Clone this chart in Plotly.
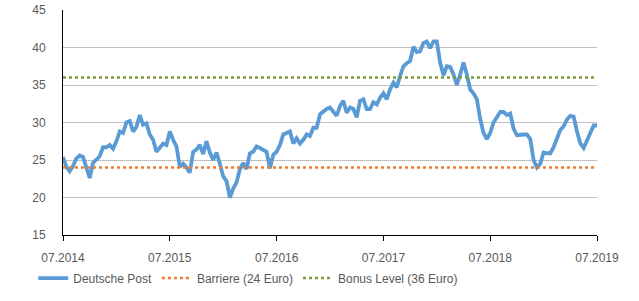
import pandas as pd
import plotly.graph_objects as go

# Deutsche Post share price (Euro), evenly spaced from 07.2014 to 07.2019
price = [
    25.4, 24.1, 23.5, 24.2, 25.2, 25.6, 25.4, 23.8, 22.6, 24.6,
    25.0, 25.5, 26.7, 26.7, 27.0, 26.5, 27.5, 28.8, 28.6, 30.0,
    30.2, 28.8, 29.4, 31.0, 29.7, 29.9, 28.4, 27.7, 26.1, 26.6,
    27.2, 27.0, 28.8, 27.7, 26.8, 24.1, 24.5, 24.0, 23.3, 26.1,
    26.4, 27.0, 25.8, 27.5, 26.0, 25.0, 26.0, 24.5, 22.8, 22.2,
    20.0, 21.2, 22.0, 23.8, 24.6, 23.8, 25.9, 26.1, 26.8, 26.6,
    26.4, 26.1, 23.9, 25.7, 26.1, 27.0, 28.4, 28.6, 28.8, 27.2,
    27.9, 27.2, 27.7, 28.4, 28.2, 29.3, 29.3, 31.1, 31.5, 31.8,
    32.0, 31.5, 30.9, 32.2, 32.9, 31.3, 32.0, 31.8, 30.7, 32.9,
    33.1, 31.8, 31.8, 32.7, 32.4, 33.3, 33.9, 33.1, 34.4, 35.3,
    34.7, 36.2, 37.5, 37.9, 38.2, 40.1, 39.4, 39.5, 40.6, 40.8,
    39.9, 40.8, 40.8, 38.0, 36.3, 37.5, 37.4, 36.4, 35.0, 36.4,
    38.0, 36.4, 34.4, 33.9, 33.1, 30.5, 28.6, 27.8, 28.6, 30.0,
    30.8, 31.4, 31.4, 31.0, 31.2, 29.2, 28.3, 28.4, 28.4, 28.4,
    27.8, 25.0, 24.0, 24.5, 26.0, 25.9, 25.9, 26.7, 27.8, 29.0,
    29.5, 30.4, 30.9, 30.8, 28.8, 27.2, 26.6, 27.6, 28.6, 29.6,
    29.6,
]
start_date = "2014-07-01"
end_date = "2019-07-01"
barrier = 24
bonus_level = 36
series_names = ["Deutsche Post", "Barriere (24 Euro)", "Bonus Level (36 Euro)"]

dates = pd.date_range(start_date, end_date, periods=len(price))
span = [dates[0], dates[-1]]

fig = go.Figure()
fig.add_trace(go.Scatter(x=dates, y=price, mode="lines", name=series_names[0],
                         line=dict(color="#5B9BD5", width=3.8)))
fig.add_trace(go.Scatter(x=span, y=[barrier, barrier], mode="lines", name=series_names[1],
                         line=dict(color="#ED7D31", width=2.5, dash="dot")))
fig.add_trace(go.Scatter(x=span, y=[bonus_level, bonus_level], mode="lines", name=series_names[2],
                         line=dict(color="#7A9A3C", width=2.5, dash="dot")))

font = dict(family="Liberation Sans, Arial, sans-serif", size=12, color="#595959")
fig.update_layout(
    width=639, height=301,
    margin=dict(l=63, r=42, t=10, b=66, autoexpand=False),
    paper_bgcolor="white", plot_bgcolor="white",
    font=font,
    showlegend=True,
    legend=dict(orientation="h", xref="container", yref="container",
                x=0.052, xanchor="left", y=0.076, yanchor="middle",
                font=font, tracegroupgap=0, bgcolor="rgba(0,0,0,0)"),
    xaxis=dict(range=[start_date, end_date], tick0=start_date, dtick="M12",
               tickformat="%m.%Y", showgrid=False, showline=True, linecolor="black",
               linewidth=1, ticks="outside", ticklen=5, tickcolor="black",
               zeroline=False, tickfont=font, ticklabelstandoff=7),
    yaxis=dict(range=[15, 45], dtick=5, showgrid=True, gridcolor="#C0C0C0",
               gridwidth=1, showline=True, linecolor="black", linewidth=1,
               ticks="", zeroline=False, tickfont=font, ticklabelstandoff=14),
)
fig.write_html("out.html")
